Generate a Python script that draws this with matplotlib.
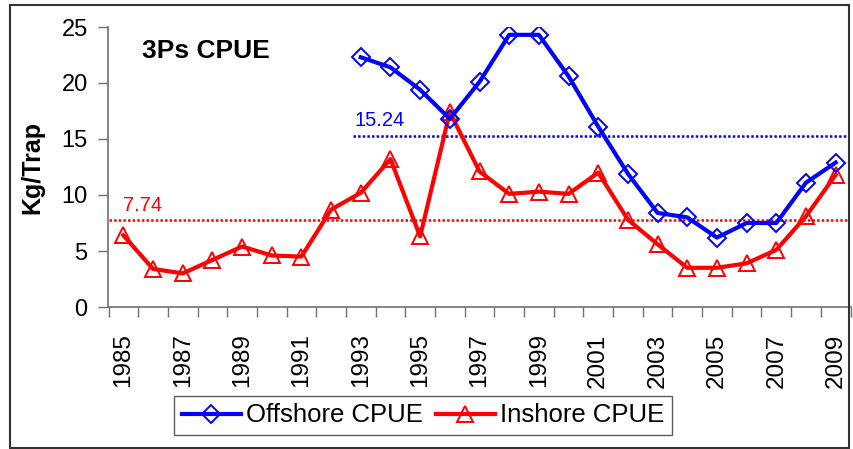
import matplotlib.pyplot as plt
from matplotlib.patches import Rectangle
from matplotlib.ticker import FixedLocator, NullFormatter

plt.rcParams['font.family'] = ['Liberation Sans', 'DejaVu Sans']

years = list(range(1985, 2010))
offshore_years = list(range(1993, 2010))
offshore = [22.3, 21.4, 19.4, 16.8, 20.1, 24.3, 24.3, 20.6, 16.1, 11.9,
            8.4, 8.0, 6.2, 7.5, 7.5, 11.1, 12.9]
inshore = [6.4, 3.4, 3.0, 4.2, 5.4, 4.6, 4.5, 8.7, 10.2, 13.2, 6.3, 17.4,
           12.1, 10.1, 10.3, 10.1, 12.0, 7.8, 5.6, 3.5, 3.5, 3.9, 5.1, 8.1, 11.8]
offshore_mean = 15.24
inshore_mean = 7.74
label_years = years[::2]

fig = plt.figure(figsize=(8.54, 4.49), dpi=100)
ax = fig.add_axes([108.5 / 854, 1 - 307 / 449, 742 / 854, 280 / 449])

# long-term averages
ax.plot([1984.5, 2009.5], [inshore_mean, inshore_mean], color='red',
        lw=1.8, ls=(0, (1, 0.85)), zorder=2)
ax.plot([1992.75, 2009.5], [offshore_mean, offshore_mean], color='blue',
        lw=1.8, ls=(0, (1, 0.85)), zorder=2)
ax.text(1992.8, offshore_mean + 0.95, '%.2f' % offshore_mean, color='blue',
        fontsize=14.5, va='baseline', ha='left')
ax.text(1985.0, inshore_mean + 0.85, '%.2f' % inshore_mean, color='red',
        fontsize=14.5, va='baseline', ha='left')

ax.plot(offshore_years, offshore, color='blue', lw=3, marker='D',
        markersize=9, markerfacecolor='none', markeredgecolor='blue',
        markeredgewidth=1.4, label='Offshore CPUE', zorder=4)
ax.plot(years, inshore, color='red', lw=3, marker='^',
        markersize=12, markerfacecolor='none', markeredgecolor='red',
        markeredgewidth=1.4, label='Inshore CPUE', zorder=3)

ax.set_xlim(1984.5, 2009.5)
ax.set_ylim(0, 25)
ax.set_yticks([0, 5, 10, 15, 20, 25])
ax.tick_params(axis='y', direction='out', length=7, width=1,
               color='#707070', labelsize=17, pad=8)

# category boundaries get the tick marks, odd years get the labels
ax.xaxis.set_major_locator(FixedLocator([y - 0.5 for y in years] + [2009.5]))
ax.xaxis.set_major_formatter(NullFormatter())
ax.xaxis.set_minor_locator(FixedLocator(label_years))
ax.set_xticklabels([str(y) for y in label_years], minor=True, rotation=90)
ax.tick_params(axis='x', which='major', direction='out', length=7, width=1,
               color='#707070')
ax.tick_params(axis='x', which='minor', length=0, labelsize=17.5, pad=19)

for side in ['top', 'right']:
    ax.spines[side].set_visible(False)
for side in ['left', 'bottom']:
    ax.spines[side].set_color('#707070')
    ax.spines[side].set_linewidth(1.2)

ax.text(0.045, 0.889, '3Ps CPUE', transform=ax.transAxes, fontsize=19,
        fontweight='bold', va='baseline', ha='left')
fig.text(32 / 854, 0.5 * (1 - 27 / 449) + 0.5 * (1 - 307 / 449), 'Kg/Trap',
         rotation=90, fontsize=18, fontweight='bold', ha='center', va='center')

leg = fig.legend(loc='center', bbox_to_anchor=(423 / 854, 1 - 415.5 / 449),
                 ncol=2, fontsize=18.5, frameon=True, fancybox=False,
                 handlelength=2.3, handletextpad=0.2, columnspacing=0.5,
                 borderpad=0.3, borderaxespad=0)
leg.get_frame().set_edgecolor('#333333')
leg.get_frame().set_linewidth(1.0)

fig.patches.append(Rectangle((10 / 854, 1 / 449), 839 / 854, 443 / 449,
                             transform=fig.transFigure, fill=False,
                             edgecolor='#333333', lw=1.5))

fig.savefig('out.png', dpi=100)
